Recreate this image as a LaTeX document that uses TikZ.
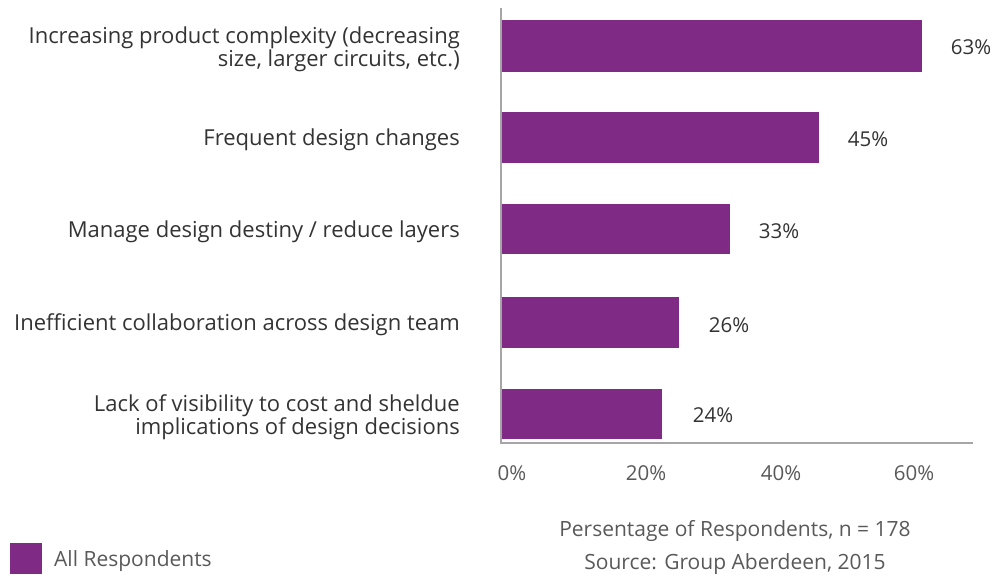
\documentclass[tikz,border=0pt]{standalone}
\usepackage{fontspec}
\setmainfont{Open Sans}
\definecolor{barc}{HTML}{7F2A84}
\definecolor{txt}{HTML}{333333}
\definecolor{axc}{HTML}{A6A6A6}
\definecolor{tick}{HTML}{595959}
\begin{document}
\begin{tikzpicture}[x=1pt,y=-1pt,
  bar/.style={fill=barc,draw=none},
  cat/.style={anchor=east,align=right,text=txt,font=\fontsize{22}{21}\selectfont,inner sep=0pt},
  val/.style={text=txt,font=\fontsize{20.5}{21}\selectfont,inner sep=0pt},
  tk/.style={text=tick,font=\fontsize{20.5}{21}\selectfont,inner sep=0pt},
  foot/.style={text=tick,font=\fontsize{21}{21}\selectfont,inner sep=0pt}]
\useasboundingbox (0,0) rectangle (1008,574);
% axes
\coordinate (top) at (501,8);
\coordinate (org) at (501,443);
\coordinate (xend) at (973,443);
\draw[axc,line width=1.5pt] (top) -- (org) -- (xend);
% bars
\fill[bar] (502,20) rectangle (922,72);
\fill[bar] (502,112) rectangle (819,163);
\fill[bar] (502,204) rectangle (730,254);
\fill[bar] (502,297) rectangle (679,348);
\fill[bar] (502,389) rectangle (662,439);
% values
\node[val] (v1) at (971,47) {63\%};
\node[val] (v2) at (868,139) {45\%};
\node[val] (v3) at (779,231) {33\%};
\node[val] (v4) at (729,325) {26\%};
\node[val] (v5) at (713,415) {24\%};
% categories
\node[cat] (c1) at (460,49) {Increasing product complexity (decreasing\\size, larger circuits, etc.)};
\node[cat] (c2) at (460,140) {Frequent design changes};
\node[cat] (c3) at (460,232) {Manage design destiny / reduce layers};
\node[cat] (c4) at (460,325) {Inefficient collaboration across design team};
\node[cat] (c5) at (460,417) {Lack of visibility to cost and sheldue\\implications of design decisions};
% ticks
\node[tk] (t0) at (512,473) {0\%};
\node[tk] (t20) at (646,473) {20\%};
\node[tk] (t40) at (781,473) {40\%};
\node[tk] (t60) at (914,473) {60\%};
% footer
\node[foot] (f1) at (735,531) {Persentage of Respondents, n = 178};
\node[foot] (f2) at (735,564) {Source: Group Aberdeen, 2015};
% legend
\fill[barc] (10,543) rectangle (42,574);
\node[foot,anchor=west] (leg) at (54,561) {All Respondents};
\end{tikzpicture}
\end{document}
